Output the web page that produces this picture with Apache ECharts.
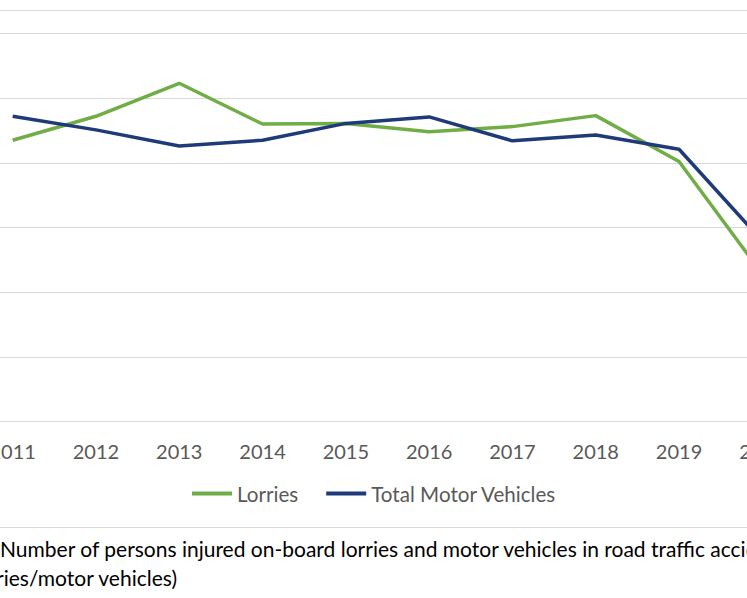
<!DOCTYPE html>
<html>
<head>
<meta charset="utf-8">
<script src="https://cdn.jsdelivr.net/npm/echarts@6/dist/echarts.min.js"></script>
<style>
html,body{margin:0;padding:0;background:#fff;overflow:hidden;width:747px;height:598px;}
#wrap{position:relative;width:747px;height:598px;overflow:hidden;}
#chart{position:absolute;left:-29px;top:0;width:880px;height:598px;}
</style>
</head>
<body>
<div id="wrap"><div id="chart"></div></div>
<script>
const years = ['2011','2012','2013','2014','2015','2016','2017','2018','2019','2020'];
const lorries = [435, 472, 523, 460, 461, 448, 456, 473, 402, 228];
const totalMotorVehicles = [472, 451, 426, 435, 461, 471, 434, 443, 421, 279];
const captionLine1 = 'Number of persons injured on-board lorries and motor vehicles in road traffic accidents';
const captionLine2 = '(lorries/motor vehicles)';

const FONT = 'Lato, "Open Sans", sans-serif';
const OFF = 29; // container is shifted left by this many pixels
const chart = echarts.init(document.getElementById('chart'), null, {renderer: 'svg'});
chart.setOption({
  animation: false,
  backgroundColor: '#fff',
  grid: {left: 0, width: 833, top: 33.5, bottom: 176.5, containLabel: false},
  xAxis: {
    type: 'category',
    data: years,
    boundaryGap: true,
    axisLine: {lineStyle: {color: '#d9d9d9', width: 1}},
    axisTick: {show: false},
    axisLabel: {color: '#595959', fontSize: 20, fontFamily: FONT, margin: 19}
  },
  yAxis: {
    type: 'value',
    min: 0, max: 600, interval: 100,
    axisLabel: {show: false},
    axisLine: {show: false},
    axisTick: {show: false},
    splitLine: {lineStyle: {color: '#d9d9d9', width: 1}}
  },
  legend: {
    left: 192 + OFF, top: 483, padding: 0,
    icon: 'rect', itemWidth: 40, itemHeight: 4, itemGap: 28,
    textStyle: {color: '#595959', fontSize: 20.6, fontFamily: FONT},
    data: ['Lorries', 'Total Motor Vehicles']
  },
  series: [
    {name: 'Lorries', type: 'line', data: lorries, symbol: 'none',
     lineStyle: {color: '#70ad47', width: 3.5}, itemStyle: {color: '#70ad47'}},
    {name: 'Total Motor Vehicles', type: 'line', data: totalMotorVehicles, symbol: 'none',
     lineStyle: {color: '#1f3a78', width: 3.5}, itemStyle: {color: '#1f3a78'}}
  ],
  graphic: [
    {type: 'line', shape: {x1: 0, y1: 10.5, x2: 880, y2: 10.5}, style: {stroke: '#d9d9d9', lineWidth: 1}},
    {type: 'line', shape: {x1: 0, y1: 527.5, x2: 880, y2: 527.5}, style: {stroke: '#d9d9d9', lineWidth: 1}},
    {type: 'text', x: OFF, y: 548, style: {text: captionLine1, fill: '#000', fontSize: 21, fontFamily: FONT, textAlign: 'left', textVerticalAlign: 'middle'}},
    {type: 'text', x: 177 + OFF, y: 577, style: {text: captionLine2, fill: '#000', fontSize: 21, fontFamily: FONT, textAlign: 'right', textVerticalAlign: 'middle'}}
  ]
});
</script>
</body>
</html>
